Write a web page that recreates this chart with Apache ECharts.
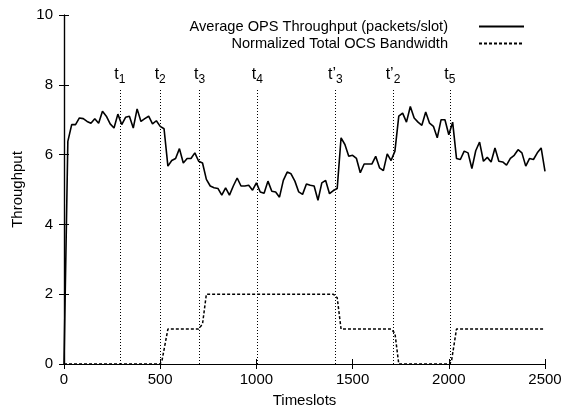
<!DOCTYPE html>
<html>
<head>
<meta charset="utf-8">
<script src="https://cdn.jsdelivr.net/npm/echarts@6/dist/echarts.min.js"></script>
<style>
  html, body { margin: 0; padding: 0; background: #fff; }
  #chart { width: 574px; height: 416px; }
</style>
</head>
<body>
<div id="chart"></div>
<script>
// 平均 OPS 吞吐量（每 20 个时隙采样一次）与归一化 OCS 总带宽
const STEP = 20;
const opsThroughput = [
  0, 6.38, 6.86, 6.86, 7.05, 7.03, 6.95, 6.9, 7.03, 6.9,
  7.24, 7.1, 6.88, 6.76, 7.16, 6.86, 7.07, 7.1, 6.76, 7.31,
  6.95, 7.03, 7.1, 6.88, 6.97, 6.81, 6.74, 5.67, 5.83, 5.89,
  6.17, 5.76, 5.89, 5.89, 6.05, 5.81, 5.76, 5.29, 5.1, 5.05,
  5.03, 4.84, 5.05, 4.84, 5.1, 5.33, 5.1, 5.1, 5.12, 4.98,
  5.19, 4.93, 4.89, 5.24, 4.95, 4.93, 4.78, 5.26, 5.5, 5.45,
  5.24, 4.93, 4.86, 5.16, 5.12, 5.1, 4.69, 5.19, 5.26, 4.88,
  4.97, 5.03, 6.48, 6.29, 5.95, 5.98, 5.89, 5.48, 5.73, 5.73,
  5.73, 5.95, 5.62, 5.54, 6.02, 5.83, 6.1, 7.1, 7.19, 6.93,
  7.38, 7.05, 6.93, 6.84, 7.22, 6.9, 6.81, 6.48, 7.0, 7.0,
  6.57, 6.93, 5.89, 5.86, 6.1, 6.05, 5.6, 6.11, 6.36, 5.81,
  5.92, 5.79, 6.19, 5.81, 5.79, 5.7, 5.89, 5.98, 6.14, 6.05,
  5.67, 5.89, 5.86, 6.05, 6.19, 5.52,
];
const ocsBandwidth = [
  [0, 0], [500, 0], [510, 0.12], [540, 1], [700, 1], [720, 1.15], [740, 2],
  [1400, 2], [1420, 1.9], [1440, 1], [1700, 1], [1720, 0.88], [1740, 0],
  [2005, 0], [2015, 0.12], [2040, 1], [2500, 1],
];
// 事件时刻（竖直点线）
const eventTimes = [290, 500, 705, 1005, 1410, 1710, 2005];
const eventNames = ['t', 't', 't', 't', 't\u2019', 't\u2019', 't'];
const eventSubs = ['1', '2', '3', '4', '3', '2', '5'];
const EVENT_TOP = 7.9;

const FONT = 'Liberation Sans, Arial, Helvetica, sans-serif';
const FS = 15;
const chart = echarts.init(document.getElementById('chart'));

const opsData = opsThroughput.map((v, i) => [i * STEP, v]);

const eventLines = eventTimes.map((t, i) => [
  { coord: [t, 0] },
  {
    coord: [t, EVENT_TOP],
    label: { formatter: `${eventNames[i]}{s|${eventSubs[i]}}` },
  },
]);

const axisBase = {
  axisLine: { show: true, lineStyle: { color: '#000', width: 1.2 } },
  axisTick: { show: true, inside: true, length: 5, lineStyle: { color: '#000' } },
  splitLine: { show: false },
};

chart.setOption({
  backgroundColor: '#fff',
  animation: false,
  textStyle: { fontFamily: FONT },
  grid: { left: 64, right: 29, top: 15, bottom: 52, outerBoundsMode: 'none', containLabel: false },
  legend: {
    orient: 'vertical',
    right: 44,
    top: 14,
    align: 'right',
    itemWidth: 45,
    itemHeight: 10,
    itemGap: 2,
    itemStyle: { opacity: 0 },
    textStyle: { fontFamily: FONT, fontSize: 14.6, color: '#000', padding: [0, 26, 0, 0] },
    data: ['Average OPS Throughput (packets/slot)', 'Normalized Total OCS Bandwidth'],
  },
  xAxis: [{
    ...axisBase,
    type: 'value', min: 0, max: 2500, interval: 500,
    name: 'Timeslots', nameLocation: 'middle', nameGap: 29,
    nameTextStyle: { fontFamily: FONT, fontSize: FS, color: '#000' },
    axisLabel: { fontFamily: FONT, fontSize: FS, color: '#000', margin: 8, formatter: v => String(v) },
  }, {
    ...axisBase,
    type: 'value', min: 0, max: 2500, interval: 500, position: 'top',
    axisLabel: { show: false },
  }],
  yAxis: [{
    ...axisBase,
    type: 'value', min: 0, max: 10, interval: 2,
    name: 'Throughput', nameLocation: 'middle', nameGap: 39,
    nameTextStyle: { fontFamily: FONT, fontSize: FS, color: '#000' },
    axisLabel: { fontFamily: FONT, fontSize: FS, color: '#000', margin: 11 },
  }, {
    ...axisBase,
    type: 'value', min: 0, max: 10, interval: 2, position: 'right',
    axisLabel: { show: false },
  }],
  series: [{
    name: 'Average OPS Throughput (packets/slot)',
    type: 'line',
    data: opsData,
    symbol: 'none',
    lineStyle: { color: '#000', width: 1.6 },
    itemStyle: { color: '#000' },
    markLine: {
      silent: true,
      symbol: 'none',
      lineStyle: { color: '#000', width: 1, type: [1, 2] },
      label: {
        position: 'end',
        distance: 3,
        fontFamily: FONT, fontSize: 16, color: '#000',
        rich: { s: { fontFamily: FONT, fontSize: 12, color: '#000', padding: [9, 0, 0, 0] } },
      },
      data: eventLines,
    },
  }, {
    name: 'Normalized Total OCS Bandwidth',
    type: 'line',
    data: ocsBandwidth,
    symbol: 'none',
    lineStyle: { color: '#000', width: 1.5, type: [3, 2] },
    itemStyle: { color: '#000' },
  }],
});
</script>
</body>
</html>
